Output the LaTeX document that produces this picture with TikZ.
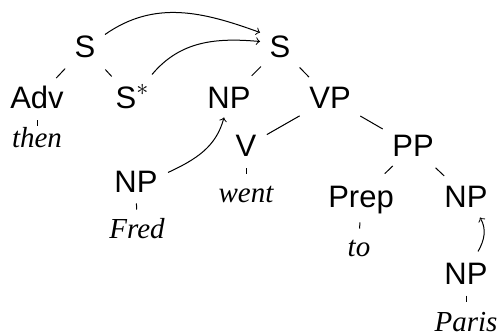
\documentclass[tikz,border=0pt]{standalone}
\usepackage{fontspec}
\setmainfont{Liberation Serif}
\setsansfont{Liberation Sans}
\begin{document}
\begin{tikzpicture}[x=0.5pt,y=-0.5pt,line width=0.5pt,
  lab/.style={font=\fontsize{15.5}{17}\selectfont\sffamily, text height=10.5pt, text depth=0pt, inner sep=0pt, anchor=base},
  word/.style={font=\fontsize{14.5}{16}\selectfont\itshape, text height=9.5pt, text depth=0pt, inner sep=0pt, anchor=base},
  arr/.style={->}]
\useasboundingbox (0,0) rectangle (497,336);
% labels
\node[lab] (S1) at (85,58) {S};
\node[lab] (S2) at (280,58) {S};
\node[lab] (Adv) at (37,109) {Adv};
\node[lab] (Ss) at (132,109) {S\raisebox{6.5pt}{\fontsize{12}{12}\selectfont$\ast$}};
\node[lab] (NP1) at (229,109) {NP};
\node[lab] (VP) at (330,109) {VP};
\node[word] (then) at (37,148) {then};
\node[lab] (V) at (246,157) {V};
\node[lab] (PP) at (413,157) {PP};
\node[lab] (NPf) at (136,192) {NP};
\node[word] (went) at (246,203) {went};
\node[lab] (Prep) at (361,207) {Prep};
\node[lab] (NPr) at (466,207) {NP};
\node[word] (Fred) at (137,238) {Fred};
\node[word] (to) at (359,256) {to};
\node[lab] (NPl) at (466,284) {NP};
\node[word] (Paris) at (466,331) {Paris};
% tree edges
\draw[shorten <=14.5pt, shorten >=14pt] (S1.center) -- (Adv.center);
\draw[shorten <=15pt, shorten >=15pt] (S1.center) -- (Ss.center);
\draw[shorten <=13.5pt, shorten >=16pt] (S2.center) -- (NP1.center);
\draw[shorten <=14pt, shorten >=15pt] (S2.center) -- (VP.center);
\draw[shorten <=17.5pt, shorten >=12pt] (VP.center) -- (V.center);
\draw[shorten <=17.5pt, shorten >=17.5pt] (VP.center) -- (PP.center);
\draw[shorten <=14pt, shorten >=16.5pt] (PP.center) -- (Prep.center);
\draw[shorten <=15.5pt, shorten >=15pt] (PP.center) -- (NPr.center);
\draw[shorten <=5.5pt, shorten >=1pt] (Adv.south) -- (then.north);
\draw[shorten <=5.5pt, shorten >=4.5pt] (NPf.south) -- (Fred.north);
\draw[shorten <=5.5pt, shorten >=4.5pt] (V.south) -- (went.north);
\draw[shorten <=7.5pt, shorten >=4pt] (Prep.south) -- (to.north);
\draw[shorten <=5.5pt, shorten >=5pt] (NPl.south) -- (Paris.north);
% movement arrows
\draw[arr] ([shift={(20,-13)}]S1.center) to[out=35,in=160] ([shift={(-20,-15)}]S2.center);
\draw[arr] ([shift={(20,-24)}]Ss.center) to[out=50,in=175] ([shift={(-20,-6)}]S2.center);
\draw[arr] ([shift={(32,-9)}]NPf.center) to[out=25,in=-105] ([shift={(-5,19)}]NP1.center);
\draw[arr] ([shift={(12,-22)}]NPl.center) to[out=60,in=-60] ([shift={(14,21)}]NPr.center);
\end{tikzpicture}
\end{document}
